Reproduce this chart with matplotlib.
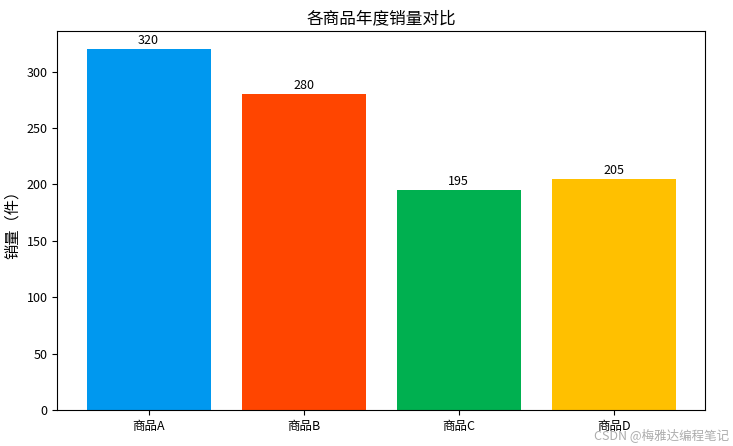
import matplotlib
matplotlib.use("Agg")
import matplotlib.pyplot as plt

plt.rcParams['font.family'] = ['Noto Sans CJK SC', 'DejaVu Sans']

categories = ['商品A', '商品B', '商品C', '商品D']
sales = [320, 280, 195, 205]
colors = ['#0098EF', '#FF4500', '#00B050', '#FFC000']

fig = plt.figure(figsize=(7.33, 4.46), dpi=100)
ax = fig.add_axes([0.078, 0.081, 0.884, 0.849])
bars = ax.bar(categories, sales, color=colors)
for b, v in zip(bars, sales):
    ax.text(b.get_x() + b.get_width() / 2, v + 2, str(v), ha='center', va='bottom', fontsize=9)
ax.set_title('各商品年度销量对比', fontsize=12)
ax.set_ylabel('销量（件）', fontsize=11)
ax.tick_params(labelsize=9)
fig.text(0.995, 0.01, 'CSDN @梅雅达编程笔记', ha='right', va='bottom', fontsize=9, color='#999999', alpha=0.8)
fig.savefig('out.png', dpi=100)
